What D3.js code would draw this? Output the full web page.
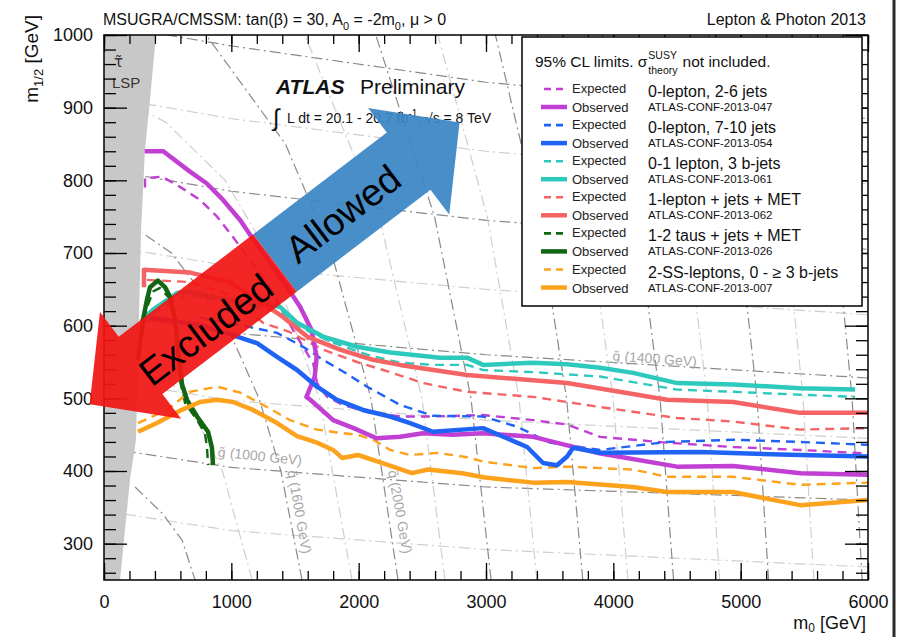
<!DOCTYPE html>
<html lang="en">
<head>
<meta charset="UTF-8">
<title>MSUGRA/CMSSM limits</title>
<script src="https://cdn.jsdelivr.net/npm/d3@7"></script>
<style>
body{margin:0;background:#fff;}
svg{font-family:"Liberation Sans",Arial,sans-serif;}
</style>
</head>
<body>
<script>
var width=902, height=637;

// axis ticks
var m0Ticks=[0,1000,2000,3000,4000,5000,6000];
var m12Ticks=[300,400,500,600,700,800,900,1000];

// limit contours, [m0, m1/2] in GeV
var exp047=[[322,790],[322,803],[456,805],[597,791],[754,773],[888,750],[1013,722],[1147,690],[1280,659],[1382,626],[1485,594],[1563,571],[1642,549],[1673,521],[1752,502],[1877,491],[2066,481],[2325,475],[2584,475],[2977,477],[3370,470],[3637,464],[3896,447],[4422,439],[4941,433],[5467,429],[6000,424]];
var obs047=[[320,840],[465,840],[675,812],[805,796],[935,773],[1070,745],[1175,718],[1305,686],[1435,654],[1540,626],[1630,594],[1670,557],[1655,530],[1590,502],[1620,498],[1800,470],[1960,459],[2140,445],[2325,447],[2505,452],[2740,450],[2975,452],[3370,447],[3900,424],[4500,406],[4940,407],[5470,397],[6000,395]];
var exp054=[[754,611],[1147,598],[1359,590],[1563,571],[1720,553],[1877,537],[2066,516],[2325,491],[2584,476],[2977,475],[3244,461],[3503,439],[3896,429],[4422,440],[4941,443],[5467,440],[6000,436]];
var obs054=[[361,611],[754,601],[1045,585],[1202,576],[1359,557],[1516,539],[1673,516],[1830,498],[2034,484],[2247,475],[2404,466],[2584,454],[2977,459],[3323,433],[3448,411],[3558,408],[3637,420],[3684,432],[3896,425],[4682,426],[5467,422],[6000,420]];
var exp061=[[306,601],[401,618],[518,631],[652,642],[990,633],[1382,619],[1540,598],[1775,578],[2066,560],[2325,549],[2584,546],[2851,546],[2977,539],[3370,536],[3896,530],[4501,512],[4941,509],[5467,505],[5899,502]];
var obs061=[[306,608],[385,622],[495,635],[573,645],[652,647],[990,635],[1382,626],[1516,604],[1720,585],[1987,571],[2247,563],[2639,556],[2851,556],[2977,546],[3370,549],[3637,547],[3896,542],[4155,535],[4501,521],[4941,519],[5467,514],[5899,512]];
var exp062=[[338,663],[676,660],[990,642],[1249,604],[1461,591],[1720,567],[1987,550],[2247,536],[2506,521],[2851,509],[3370,502],[3896,488],[4501,473],[4941,468],[5467,457],[6000,459]];
var obs062=[[314,653],[314,677],[676,673],[990,660],[1406,612],[1595,585],[1854,567],[2113,553],[2325,546],[2851,532],[3637,521],[4422,498],[4941,495],[5467,480],[6000,480]];
var exp026=[[298,587],[346,629],[385,647],[440,652],[503,640],[534,622],[566,587],[597,525],[636,494],[731,470],[793,452],[809,432],[817,408]];
var obs026=[[267,552],[283,574],[306,608],[338,636],[361,653],[424,662],[479,653],[518,640],[558,608],[581,567],[613,519],[652,498],[731,475],[817,454],[848,432],[856,408]];
var exp007=[[267,466],[495,484],[676,509],[888,516],[1068,508],[1280,488],[1461,470],[1673,457],[1830,453],[1987,450],[2113,443],[2247,429],[2404,422],[2616,425],[2851,419],[2977,413],[3370,404],[3637,406],[4155,402],[4422,392],[4941,392],[5467,381],[6000,384]];
var obs007=[[267,454],[416,466],[597,483],[754,495],[888,498],[1013,495],[1170,484],[1359,466],[1516,448],[1673,439],[1799,429],[1870,418],[1995,422],[2152,413],[2419,397],[2545,402],[2812,397],[2993,391],[3370,384],[3637,385],[4155,378],[4422,371],[4941,371],[5467,353],[6000,360]];

// stau LSP region
var lspRegion=[[0,1000],[408,1000],[361,911],[322,842],[291,732],[267,553],[251,443],[204,388],[126,250],[0,250]];

// iso-mass lines (gluino ~horizontal, squark ~vertical)
var gluinoMass=[800,1000,1200,1400,1600,1800,2000,2200];
var gluinoLines=[
  [[0,345],[1000,318],[3000,292],[6000,268]],
  [[0,432],[1000,405],[3000,378],[6000,360]],
  [[0,525],[1000,497],[3000,470],[6000,445]],
  [[0,615],[1000,590],[3000,560],[6000,528]],
  [[0,710],[1000,682],[3000,650],[6000,615]],
  [[0,815],[1000,785],[3000,745],[6000,705]],
  [[0,915],[1000,885],[3000,840],[6000,795]],
  [[0,1015],[1000,985],[3000,935],[6000,885]]
];
var squarkLines=[
  [[1163,250],[930,400],[644,500],[311,560]],
  [[1555,250],[1389,400],[1217,500],[965,600],[530,700],[300,728]],
  [[1948,250],[1690,500],[1287,700],[952,800],[485,880],[300,897]],
  [[2309,250],[2096,500],[1787,700],[1425,850],[802,1000]],
  [[2678,250],[2497,500],[2161,750],[1576,1000]],
  [[3040,250],[2882,500],[2596,750],[2134,1000]],
  [[3400,250],[3259,500],[3010,750],[2622,1000]],
  [[3760,250],[3633,500],[3411,750],[3074,1000]],
  [[4114,250],[3998,500],[3798,750],[3498,1000]],
  [[4473,250],[4367,500],[4184,750],[3914,1000]],
  [[4835,250],[4737,500],[4569,750],[4323,1000]],
  [[5219,250],[5129,500],[4974,750],[4749,1000]],
  [[5575,250],[5490,500],[5346,750],[5137,1000]],
  [[5954,250],[5875,500],[5740,750],[5546,1000]]
];
var lowLine=[[244,378],[456,342],[613,305],[715,250]];

var legendNames=["0-lepton, 2-6 jets","0-lepton, 7-10 jets","0-1 lepton, 3 b-jets","1-lepton + jets + MET","1-2 taus + jets + MET","2-SS-leptons, 0 - \u2265 3 b-jets"];
var legendRefs=["ATLAS-CONF-2013-047","ATLAS-CONF-2013-054","ATLAS-CONF-2013-061","ATLAS-CONF-2013-062","ATLAS-CONF-2013-026","ATLAS-CONF-2013-007"];
var expected=[exp047,exp054,exp061,exp062,exp026,exp007];
var observed=[obs047,obs054,obs061,obs062,obs026,obs007];
var colors=["#c23fd4","#1f63f5","#2ec9bd","#f56464","#116611","#fca21c"];

var svg=d3.select("body").append("svg").attr("width",width).attr("height",height);

var x=d3.scaleLinear().domain([0,6000]).range([104,868]);
var y=d3.scaleLinear().domain([250,1000]).range([580,35]);

var line=d3.line().x(function(d){return x(d[0]);}).y(function(d){return y(d[1]);});

svg.append("clipPath").attr("id","plot").append("rect")
   .attr("x",104).attr("y",35).attr("width",764).attr("height",545);
var plot=svg.append("g").attr("clip-path","url(#plot)");

// grid of iso-mass lines
gluinoLines.forEach(function(l,i){
  plot.append("path").attr("d",line(l)).attr("fill","none")
      .attr("stroke",i%2?"#8a8a8a":"#cfcfcf").attr("stroke-width",1.2)
      .attr("stroke-dasharray","11,4,2,4");
});
squarkLines.forEach(function(l,i){
  plot.append("path").attr("d",line(l)).attr("fill","none")
      .attr("stroke",i%2?"#8a8a8a":"#cfcfcf").attr("stroke-width",1.2)
      .attr("stroke-dasharray","11,4,2,4");
});
plot.append("path").attr("d",line(lowLine)).attr("fill","none")
    .attr("stroke","#8a8a8a").attr("stroke-width",1.2).attr("stroke-dasharray","11,4,2,4");

// iso-line labels
function isoLabel(letter,txt,m0,m12,rot){
  var t=svg.append("text").attr("transform","translate("+x(m0)+","+y(m12)+") rotate("+rot+")")
     .attr("font-size",14).attr("fill","#a8a8a8");
  t.append("tspan").attr("font-family","DejaVu Sans").attr("font-size",13).text(letter+"\u0303");
  t.append("tspan").text(txt);
}
isoLabel("g"," (1000 GeV)",890,420,6);
isoLabel("g"," (1400 GeV)",3990,552,4);
isoLabel("q"," (1600 GeV)",1440,400,80);
isoLabel("q"," (2000 GeV)",2230,400,80);

// LSP region
plot.append("path").attr("d",line(lspRegion)+"Z").attr("fill","#c8c8c8");
svg.append("text").attr("x",114).attr("y",67).attr("font-size",15).attr("font-family","DejaVu Sans")
   .attr("fill","#333").text("\u03c4\u0303");
svg.append("text").attr("x",112).attr("y",88).attr("font-size",15).attr("fill","#333").text("LSP");

// contours
expected.forEach(function(d,i){
  plot.append("path").attr("d",line(d)).attr("fill","none").attr("stroke",colors[i])
      .attr("stroke-width",2.4).attr("stroke-dasharray","9,6").attr("stroke-linejoin","round");
});
observed.forEach(function(d,i){
  plot.append("path").attr("d",line(d)).attr("fill","none").attr("stroke",colors[i])
      .attr("stroke-width",4.5).attr("stroke-linejoin","round");
});

// axes
function axisStyle(g){
  g.select(".domain").remove();
  g.selectAll(".tick line").attr("stroke","#000").attr("stroke-width",1.3);
  g.selectAll("text").attr("font-size",18).attr("fill","#111");
}
var minorX=d3.range(0,6001,200), minorY=d3.range(260,1001,20);
svg.append("g").attr("transform","translate(0,580)")
   .call(d3.axisBottom(x).tickValues(minorX).tickSize(-9).tickFormat("")).call(axisStyle);
svg.append("g").attr("transform","translate(0,580)")
   .call(d3.axisBottom(x).tickValues(m0Ticks).tickSize(-17).tickPadding(15).tickFormat(d3.format("d"))).call(axisStyle);
svg.append("g").attr("transform","translate(0,35)")
   .call(d3.axisTop(x).tickValues(minorX).tickSize(-9).tickFormat("")).call(axisStyle);
svg.append("g").attr("transform","translate(0,35)")
   .call(d3.axisTop(x).tickValues(m0Ticks).tickSize(-17).tickFormat("")).call(axisStyle);
svg.append("g").attr("transform","translate(104,0)")
   .call(d3.axisLeft(y).tickValues(minorY).tickSize(-12).tickFormat("")).call(axisStyle);
svg.append("g").attr("transform","translate(104,0)")
   .call(d3.axisLeft(y).tickValues(m12Ticks).tickSize(-23).tickPadding(11).tickFormat(d3.format("d"))).call(axisStyle);
svg.append("g").attr("transform","translate(868,0)")
   .call(d3.axisRight(y).tickValues(minorY).tickSize(-12).tickFormat("")).call(axisStyle);
svg.append("g").attr("transform","translate(868,0)")
   .call(d3.axisRight(y).tickValues(m12Ticks).tickSize(-23).tickFormat("")).call(axisStyle);

// legend
var lg=svg.append("g");
lg.append("rect").attr("x",522).attr("y",37).attr("width",340).attr("height",269)
  .attr("fill","#fff").attr("stroke","#000").attr("stroke-width",1.5);
var h1=lg.append("text").attr("x",535).attr("y",67).attr("font-size",15.5).attr("fill","#111")
  .text("95% CL limits. \u03c3");
var hx=535+h1.node().getComputedTextLength()+1;
lg.append("text").attr("x",hx).attr("y",59).attr("font-size",10.5).attr("fill","#111").text("SUSY");
var sub=lg.append("text").attr("x",hx).attr("y",74).attr("font-size",10.5).attr("fill","#111").text("theory");
lg.append("text").attr("x",hx+sub.node().getComputedTextLength()+5).attr("y",67)
  .attr("font-size",15.5).attr("fill","#111").text("not included.");
legendNames.forEach(function(name,i){
  var ry=89+i*36.1;
  lg.append("line").attr("x1",544).attr("x2",565).attr("y1",ry).attr("y2",ry)
    .attr("stroke",colors[i]).attr("stroke-width",2.6).attr("stroke-dasharray","7,5");
  lg.append("line").attr("x1",541).attr("x2",567).attr("y1",ry+18).attr("y2",ry+18)
    .attr("stroke",colors[i]).attr("stroke-width",4.5);
  lg.append("text").attr("x",572).attr("y",ry+4).attr("font-size",13).attr("fill","#222").text("Expected");
  lg.append("text").attr("x",572).attr("y",ry+23).attr("font-size",13).attr("fill","#222").text("Observed");
  lg.append("text").attr("x",648).attr("y",ry+8).attr("font-size",16).attr("fill","#111").text(name);
  lg.append("text").attr("x",648).attr("y",ry+22).attr("font-size",11.5).attr("fill","#111").text(legendRefs[i]);
});

// frame
svg.append("rect").attr("x",104).attr("y",35).attr("width",764).attr("height",545)
   .attr("fill","none").attr("stroke","#000").attr("stroke-width",1.5);

// ATLAS label
svg.append("text").attr("x",276).attr("y",94).attr("font-size",21).attr("font-weight","bold")
   .attr("font-style","italic").attr("fill","#111").text("ATLAS");
svg.append("text").attr("x",360).attr("y",94).attr("font-size",21).attr("fill","#111").text("Preliminary");
svg.append("text").attr("x",273).attr("y",126).attr("font-size",24).attr("fill","#111").text("\u222b");
var lum=svg.append("text").attr("x",287).attr("y",123).attr("font-size",14).attr("fill","#111");
lum.append("tspan").text("L dt = 20.1 - 20.7 fb");
lum.append("tspan").attr("dy",-6).attr("font-size",10).text("-1");
lum.append("tspan").attr("dy",6).text(", \u221as = 8 TeV");

// title
var tt=svg.append("text").attr("x",103).attr("y",25).attr("font-size",16).attr("fill","#111");
tt.append("tspan").text("MSUGRA/CMSSM: tan(\u03b2) = 30, A");
tt.append("tspan").attr("dy",5).attr("font-size",11).text("0");
tt.append("tspan").attr("dy",-5).text(" = -2m");
tt.append("tspan").attr("dy",5).attr("font-size",11).text("0");
tt.append("tspan").attr("dy",-5).text(", \u03bc > 0");
svg.append("text").attr("x",866).attr("y",25).attr("text-anchor","end").attr("font-size",16)
   .attr("fill","#111").text("Lepton & Photon 2013");

// axis titles
var yt=svg.append("text").attr("transform","translate(38,15) rotate(-90)").attr("text-anchor","end")
   .attr("font-size",19).attr("fill","#111");
yt.append("tspan").text("m");
yt.append("tspan").attr("dy",5).attr("font-size",13).text("1/2");
yt.append("tspan").attr("dy",-5).text(" [GeV]");
var xt=svg.append("text").attr("x",866).attr("y",629).attr("text-anchor","end")
   .attr("font-size",18).attr("fill","#111");
xt.append("tspan").text("m");
xt.append("tspan").attr("dy",3).attr("font-size",12).text("0");
xt.append("tspan").attr("dy",-3).text(" [GeV]");

// double arrow annotation
function arrow(cx,cy,ang,len,fill){
  var sw=36, hw=67, hl=64;
  var pts=[[0,-sw],[len-hl,-sw],[len-hl,-hw],[len,0],[len-hl,hw],[len-hl,sw],[0,sw]];
  svg.append("polygon").attr("points",pts.map(function(p){return p.join(",");}).join(" "))
     .attr("transform","translate("+cx+","+cy+") rotate("+ang+")")
     .attr("fill",fill).attr("opacity",0.93);
}
arrow(275,263,-37.3,232,"#3a86c6");
arrow(275,263,142.7,233,"#f21515");
svg.append("text").attr("transform","translate(343,214) rotate(-37.3)").attr("text-anchor","middle")
   .attr("dominant-baseline","central").attr("font-size",38).attr("fill","#000").text("Allowed");
svg.append("text").attr("transform","translate(206,330) rotate(-37.3)").attr("text-anchor","middle")
   .attr("dominant-baseline","central").attr("font-size",38).attr("fill","#000").text("Excluded");

// slide border on the right
svg.append("line").attr("x1",894).attr("x2",894).attr("y1",0).attr("y2",637)
   .attr("stroke","#2a2a2a").attr("stroke-width",3);
</script>
</body>
</html>
